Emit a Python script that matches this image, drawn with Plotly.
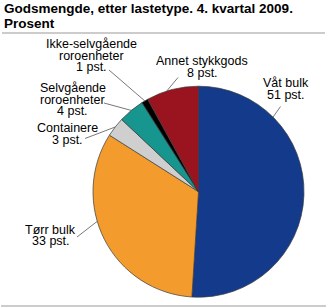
import math
import plotly.graph_objects as go

# ---- data ----
categories = ["Våt bulk", "Tørr bulk", "Containere", "Selvgående roroenheter",
              "Ikke-selvgående roroenheter", "Annet stykkgods"]
values = [51, 33, 3, 4, 1, 8]
label_lines = [["Våt bulk", "51 pst."],
               ["Tørr bulk", "33 pst."],
               ["Containere", "3 pst."],
               ["Selvgående", "roroenheter", "4 pst."],
               ["Ikke-selvgående", "roroenheter", "1 pst."],
               ["Annet stykkgods", "8 pst."]]
colors = ["#133A8B", "#F39C2D", "#CFCFCF", "#17958F", "#000000", "#9A1420"]

title_lines = ["Godsmengde, etter lastetype. 4. kvartal 2009.", "Prosent"]

# ---- layout constants (pixels) ----
W, H = 327, 308
PCX, PCY, R = 198.5, 191.7, 105.5
FONT = "Liberation Sans, Arial, sans-serif"
LFS = 12.5
LINE_H = 11.6
# label block centre x, first line centre y
label_pos = [(285.5, 83.3), (50.5, 229.5), (67.5, 128.0), (72.5, 88.0), (91.0, 44.0), (202.0, 61.0)]
# leader start (px) and fraction of slice where it touches
leader_start = [(280.5, 106.5), (77.0, 237.0), (85.0, 138.5), (104.0, 103.0), (109.0, 70.0), (178.0, 77.5)]
leader_frac = [0.245, 0.59, 0.5, 0.5, 0.5, 0.39]


def px(x):
    return x / W


def py(y):
    return 1 - y / H


fig = go.Figure(go.Pie(
    labels=categories, values=values, sort=False, direction="clockwise", rotation=0,
    marker=dict(colors=colors, line=dict(color="#3a3a3a", width=0.7)),
    textinfo="none", hoverinfo="label+percent", showlegend=False,
    domain=dict(x=[px(PCX - R), px(PCX + R)], y=[py(PCY + R), py(PCY - R)]),
))

annotations = []
shapes = []
total = sum(values)
cum = 0
for i, v in enumerate(values):
    a0 = cum / total * 360
    a1 = (cum + v) / total * 360
    cum += v
    ang = math.radians(a0 + (a1 - a0) * leader_frac[i])
    ex = PCX + R * math.sin(ang)
    ey = PCY - R * math.cos(ang)
    sx, sy = leader_start[i]
    shapes.append(dict(type="line", xref="paper", yref="paper",
                       x0=px(sx), y0=py(sy), x1=px(ex), y1=py(ey),
                       line=dict(color="#555555", width=0.8)))
    lx, ly = label_pos[i]
    for k, t in enumerate(label_lines[i]):
        annotations.append(dict(text=t, xref="paper", yref="paper", x=px(lx), y=py(ly + k * LINE_H),
                                xanchor="center", yanchor="middle", showarrow=False,
                                font=dict(family=FONT, size=LFS, color="#000000")))

for k, t in enumerate(title_lines):
    annotations.append(dict(text="<b>" + t + "</b>", xref="paper", yref="paper",
                            x=px(2), y=py(8.5 + k * 15.3), xanchor="left", yanchor="middle",
                            showarrow=False, font=dict(family=FONT, size=13.5, color="#000000")))

shapes.append(dict(type="line", xref="paper", yref="paper", x0=px(2), x1=px(325), y0=py(33), y1=py(33),
                   line=dict(color="#CCCCCC", width=2)))
shapes.append(dict(type="line", xref="paper", yref="paper", x0=px(1), x1=px(326), y0=py(306), y1=py(306),
                   line=dict(color="#CCCCCC", width=2)))

fig.update_layout(width=W, height=H, margin=dict(l=0, r=0, t=0, b=0),
                  paper_bgcolor="white", plot_bgcolor="white",
                  annotations=annotations, shapes=shapes)

fig.write_html("out.html")
